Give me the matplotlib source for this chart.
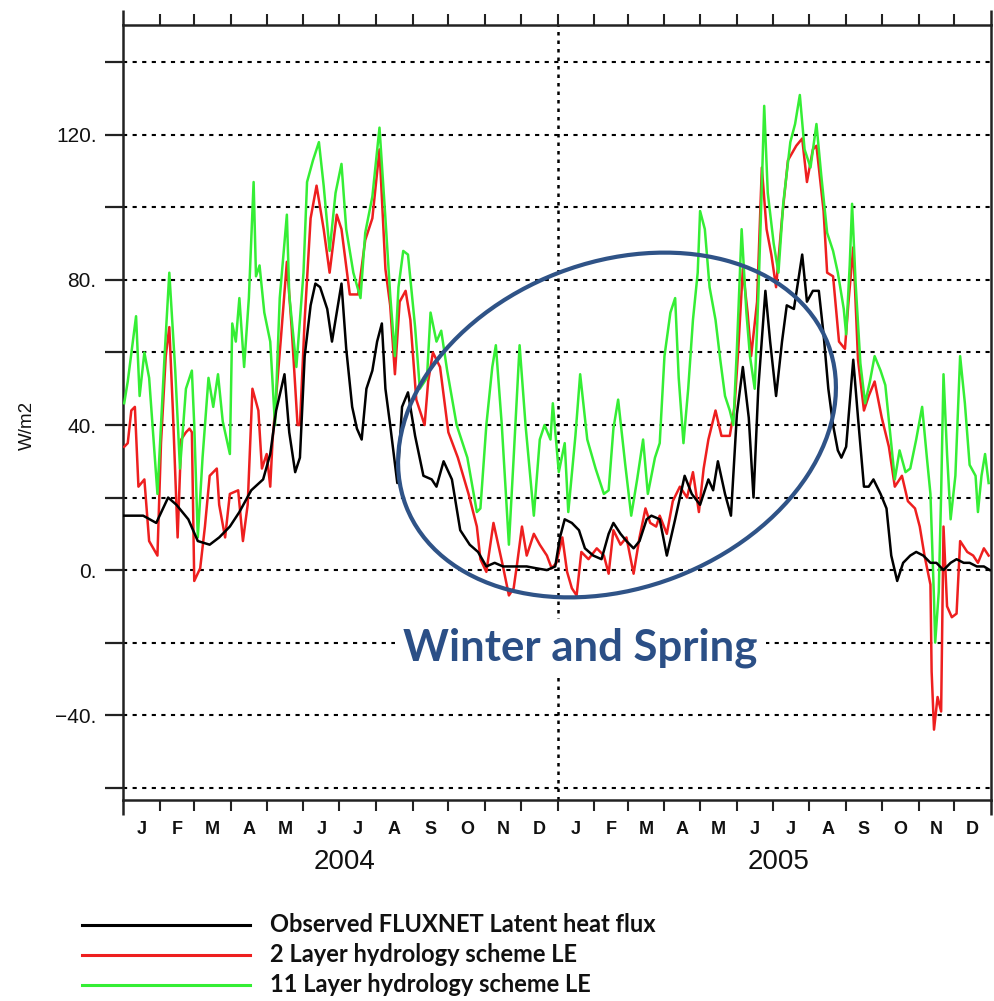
import matplotlib
matplotlib.use('Agg')
import matplotlib.pyplot as plt
from matplotlib.patches import Ellipse
from matplotlib.lines import Line2D
from matplotlib.transforms import Affine2D, blended_transform_factory

# ---------------- data (day index from 1 Jan 2004, W/m2) ----------------
obs_days = [1, 4, 17, 28, 38, 45, 55, 63, 73, 81, 90, 98, 108, 118, 124, 129, 136, 140, 145, 149,
            153, 158, 162, 166, 172, 176, 180, 184, 188, 193, 197, 201, 205, 210, 214, 218, 221, 225,
            231, 235, 240, 246, 253, 260, 264, 270, 277, 284, 292, 299, 306, 313, 320, 329, 340, 348,
            357, 364, 368, 372, 378, 384, 389, 396, 403, 409, 413, 419, 424, 430, 435, 441, 445, 452,
            458, 465, 473, 479, 486, 493, 497, 501, 507, 512, 517, 522, 527, 531, 535, 541, 545, 550,
            555, 559, 565, 572, 576, 581, 586, 590, 594, 598, 602, 605, 609, 615, 619, 624, 628, 632,
            638, 643, 647, 652, 657, 663, 668, 674, 680, 685, 691, 697, 702, 708, 713, 719, 725, 730]
obs_vals = [15, 15, 15, 13, 20, 18, 14, 8, 7, 9, 12, 16, 22, 25, 32, 44, 54, 38, 27, 31,
            59, 73, 79, 78, 72, 63, 71, 79, 61, 45, 39, 36, 50, 55, 63, 68, 50, 40,
            24, 45, 49, 37, 26, 25, 23, 30, 25, 11, 7, 5, 1, 2, 1, 1, 1, 0.5,
            0, 1, 9, 14, 13, 11, 6, 4, 3, 10, 13, 10, 8, 6, 8, 14, 15, 14,
            4, 14, 26, 21, 18, 25, 22, 30, 21, 15, 43, 56, 42, 20, 50, 77, 63, 48,
            63, 73, 72, 87, 74, 77, 77, 65, 50, 40, 33, 31, 34, 58, 42, 23, 23, 25,
            21, 17, 4, -3, 2, 4, 5, 4, 2, 2, 0, 2, 3, 2, 2, 1, 1, 0]

l2_days = [1, 4, 7, 10, 13, 18, 22, 29, 32, 36, 39, 42, 46, 49, 53, 56, 58, 60, 65, 69, 73, 79,
           81, 86, 90, 97, 101, 105, 109, 114, 117, 121, 124, 126, 131, 133, 138, 142, 147, 149,
           153, 158, 163, 169, 174, 180, 184, 191, 198, 204, 210, 216, 221, 225, 229, 233, 238,
           242, 247, 254, 257, 261, 267, 274, 282, 291, 298, 301, 306, 312, 316, 320, 325, 329,
           332, 336, 340, 346, 351, 357, 361, 365, 370, 374, 378, 382, 386, 392, 399, 405, 409,
           413, 419, 424, 430, 435, 440, 444, 449, 452, 458, 463, 469, 475, 480, 485, 489, 493,
           499, 504, 511, 515, 518, 522, 526, 529, 534, 538, 542, 546, 550, 555, 560, 567, 572,
           576, 581, 584, 590, 593, 598, 603, 608, 611, 615, 619, 624, 628, 633, 639, 645, 650,
           656, 661, 667, 671, 675, 680, 681, 683, 686, 689, 691, 694, 698, 702, 705, 711, 716,
           720, 725, 729]
l2_vals = [34, 35, 44, 45, 23, 25, 8, 4, 35, 59, 67, 44, 9, 36, 38, 39, 38, -3, 0.5, 12, 26, 28,
           18, 9, 21, 22, 8, 18, 50, 44, 28, 32, 23, 36, 56, 64, 85, 67, 40, 40,
           69, 97, 106, 94, 82, 98, 94, 76, 76, 91, 97, 116, 83, 73, 54, 74, 77,
           69, 47, 40, 52, 60, 56, 38, 31, 21, 12, 3, -0.5, 13, 7, 1, -7, -5,
           2, 12, 4, 10, 7, 4, 0.5, 2, 9, -0.5, -5, -7, 5, 3, 6, 4, -1,
           11, 7, 9, -1, 9, 17, 13, 12, 15, 10, 19, 23, 20, 27, 16, 28, 36,
           44, 37, 37, 45, 60, 83, 71, 59, 74, 111, 94, 87, 78, 97, 113, 117, 119,
           107, 116, 117, 99, 82, 81, 63, 61, 74, 89, 58, 44, 48, 52, 42, 34, 23,
           26, 19, 17, 12, 4, -4, -28, -44, -35, -39, 12, -10, -13, -12, 8, 5, 4,
           2, 6, 4]

l11_days = [1, 4, 11, 14, 18, 22, 29, 35, 39, 44, 48, 53, 58, 60, 63, 67, 72, 76, 80, 84, 90, 92,
            95, 98, 102, 106, 110, 112, 115, 119, 124, 128, 132, 138, 140, 146, 152, 155, 160, 165,
            169, 174, 179, 184, 188, 194, 200, 204, 210, 216, 221, 225, 229, 232, 236, 240, 246,
            250, 256, 259, 264, 268, 273, 281, 290, 298, 301, 306, 311, 314, 319, 325, 329, 334,
            339, 346, 351, 355, 360, 362, 367, 372, 375, 381, 385, 391, 398, 405, 409, 413, 417,
            423, 428, 433, 438, 442, 448, 452, 456, 461, 465, 468, 472, 476, 480, 484, 486, 490,
            494, 499, 503, 507, 511, 514, 517, 521, 525, 528, 532, 535, 538, 540, 543, 548, 552,
            556, 562, 566, 570, 574, 579, 584, 588, 593, 598, 602, 607, 609, 612, 614, 617, 621,
            625, 629, 633, 638, 642, 646, 650, 654, 659, 663, 668, 673, 677, 680, 683, 684, 687,
            689, 691, 694, 697, 701, 705, 709, 713, 718, 720, 723, 726, 729]
l11_vals = [46, 52, 70, 48, 60, 53, 21, 59, 82, 55, 28, 50, 55, 40, 9, 31, 53, 45, 54, 41, 32, 68,
            63, 75, 56, 75, 107, 81, 84, 71, 63, 40, 75, 98, 76, 56, 82, 107, 113, 118,
            106, 88, 104, 112, 94, 82, 75, 93, 103, 122, 97, 76, 59, 78, 88, 87, 67,
            50, 53, 71, 63, 66, 55, 40, 31, 16, 17, 40, 56, 62, 40, 7, 31, 62,
            40, 15, 36, 40, 36, 46, 27, 35, 16, 37, 54, 36, 28, 21, 22, 39, 47,
            29, 15, 25, 36, 21, 31, 35, 59, 71, 75, 53, 35, 50, 69, 82, 99, 94,
            78, 69, 58, 48, 44, 40, 61, 94, 71, 59, 50, 75, 106, 128, 104, 90, 82,
            101, 118, 123, 131, 116, 111, 123, 109, 93, 88, 82, 72, 65, 84, 101, 79, 57,
            46, 52, 59, 55, 51, 38, 25, 33, 27, 28, 36, 45, 31, 21, -8, -20, -6,
            21, 54, 32, 14, 26, 59, 46, 29, 26, 16, 26, 32, 24]

month_letters = ['J', 'F', 'M', 'A', 'M', 'J', 'J', 'A', 'S', 'O', 'N', 'D']
month_len_2004 = [31, 29, 31, 30, 31, 30, 31, 31, 30, 31, 30, 31]
month_len_2005 = [31, 28, 31, 30, 31, 30, 31, 31, 30, 31, 30, 31]
years = ['2004', '2005']
ytick_vals = [-60, -40, -20, 0, 20, 40, 60, 80, 100, 120, 140]
ytick_text = {120: '120.', 80: '80.', 40: '40.', 0: '0.', -40: '\u221240.'}
legend_labels = ['Observed FLUXNET Latent heat flux', '2 Layer hydrology scheme LE',
                 '11 Layer hydrology scheme LE']

# ---------------- figure ----------------
W, H = 994, 1001
fig = plt.figure(figsize=(W / 100, H / 100), dpi=100)
ax = fig.add_axes([123 / W, 1 - 800 / H, (991 - 123) / W, (800 - 25) / H])

RED = '#EE1F1F'
GREEN = '#35EE35'
BLUE = '#2F5387'

ax.plot(l2_days, l2_vals, color=RED, lw=1.8, zorder=3)
ax.plot(l11_days, l11_vals, color=GREEN, lw=1.8, zorder=4)
ax.plot(obs_days, obs_vals, color='black', lw=1.8, zorder=5)

# month boundaries / midpoints
bounds = [0]
for m in month_len_2004 + month_len_2005:
    bounds.append(bounds[-1] + m)
mids = [(bounds[i] + bounds[i + 1]) / 2 for i in range(24)]
total = bounds[-1]

ax.set_xlim(0, total)
ax.set_ylim(-63.4, 150.3)

ax.set_xticks(bounds[1:-1])
ax.set_xticklabels([])
ax.tick_params(axis='x', which='major', direction='out', length=8, width=1.5,
               top=True, bottom=True, colors='#222222')

ax.set_yticks(ytick_vals)
ax.set_yticklabels([ytick_text.get(v, '') for v in ytick_vals])
ax.tick_params(axis='y', which='major', direction='out', length=13, width=1.6,
               left=True, right=False, labelsize=15, pad=6, colors='#222222')
for lab in ax.get_yticklabels():
    lab.set_family('Liberation Sans')
    lab.set_color('#111111')

ax.grid(axis='y', color='black', linestyle=(0, (2, 2.6)), linewidth=1.5, zorder=1)
ax.axvline(bounds[12], color='black', linestyle=(0, (1.4, 2.0)), linewidth=1.8, zorder=1)

for s in ax.spines.values():
    s.set_linewidth(1.8)
    s.set_color('#222222')

# spine extensions above / below the frame
ext = 15 / 775
for xx in (0, 1):
    ax.plot([xx, xx], [1, 1 + ext], transform=ax.transAxes, color='#222222', lw=1.8,
            clip_on=False, solid_capstyle='butt')
    ax.plot([xx, xx], [0, -ext], transform=ax.transAxes, color='#222222', lw=1.8,
            clip_on=False, solid_capstyle='butt')

trans = blended_transform_factory(ax.transData, ax.transAxes)
for i, mx in enumerate(mids):
    ax.text(mx, -30 / 775, month_letters[i % 12], transform=trans, ha='center', va='center',
            fontsize=13, fontweight='bold', family='Liberation Sans', color='#111111')
for i, y in enumerate(years):
    cx = (bounds[12 * i] + bounds[12 * i + 12]) / 2 + 4
    ax.text(cx, -62 / 775, y, transform=trans, ha='center', va='center',
            fontsize=20, family='Liberation Sans', color='#111111')

fig.text(27 / W, 1 - 425 / H, 'W/m2', rotation=90, ha='center', va='center',
         fontsize=13.5, family='Liberation Sans', color='#111111')

# ellipse annotation (pixel coordinates)
pix = Affine2D().scale(1 / W, 1 / H) + fig.transFigure
ell = Ellipse((617, H - 425), 452, 326, angle=21, transform=pix, fill=False,
              edgecolor=BLUE, linewidth=3.0, zorder=10)
fig.add_artist(ell)

fig.text(580 / W, 1 - 648 / H, 'Winter and Spring', ha='center', va='center',
         fontsize=31.5, fontweight='bold', family='Lato', color='#2B4F86',
         bbox=dict(facecolor='white', edgecolor='none', pad=6), zorder=11)

# legend (manual, figure coordinates)
for yy, col, lab in zip([925, 955, 985], ['black', RED, GREEN], legend_labels):
    fig.add_artist(Line2D([82 / W, 250 / W], [1 - yy / H, 1 - yy / H], transform=fig.transFigure,
                          color=col, lw=2.2))
    fig.text(270 / W, 1 - yy / H, lab, ha='left', va='center', fontsize=17,
             fontweight='bold', family='Lato', color='#111111')

fig.savefig('out.png', dpi=100)
